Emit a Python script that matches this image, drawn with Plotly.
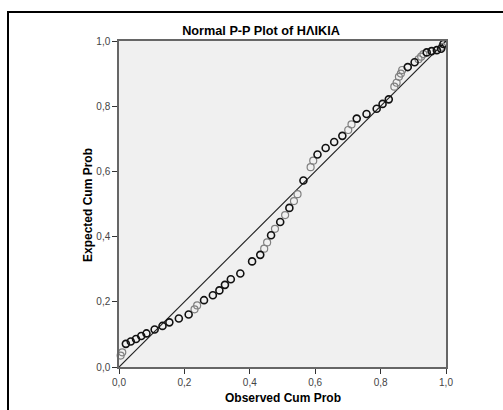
import plotly.graph_objects as go

# Normal P-P plot of age (ΗΛΙΚΙΑ): observed vs expected cumulative probability
observed_dark = [0.021, 0.036, 0.052, 0.068, 0.084, 0.109, 0.133, 0.154, 0.183, 0.213,
                 0.260, 0.287, 0.307, 0.324, 0.342, 0.371, 0.407, 0.432, 0.465, 0.493,
                 0.521, 0.564, 0.607, 0.632, 0.658, 0.683, 0.727, 0.757, 0.788, 0.806,
                 0.825, 0.883, 0.904, 0.941, 0.956, 0.972, 0.985, 0.992]
expected_dark = [0.071, 0.078, 0.086, 0.095, 0.103, 0.115, 0.126, 0.137, 0.149, 0.161,
                 0.205, 0.220, 0.235, 0.252, 0.269, 0.287, 0.324, 0.344, 0.404, 0.445,
                 0.488, 0.572, 0.652, 0.672, 0.690, 0.709, 0.762, 0.776, 0.792, 0.807,
                 0.821, 0.920, 0.935, 0.965, 0.969, 0.972, 0.976, 0.991]

observed_light = [0.005, 0.010, 0.231, 0.239, 0.444, 0.453, 0.477, 0.508, 0.535, 0.546,
                  0.586, 0.594, 0.701, 0.711, 0.842, 0.849, 0.856, 0.862, 0.866, 0.916,
                  0.924, 0.931, 0.988]
expected_light = [0.035, 0.045, 0.177, 0.189, 0.363, 0.382, 0.424, 0.466, 0.509, 0.530,
                  0.613, 0.633, 0.727, 0.744, 0.860, 0.872, 0.890, 0.900, 0.911, 0.944,
                  0.952, 0.960, 0.982]

reference_line = [0.0, 1.0]
tick_values = [0.0, 0.2, 0.4, 0.6, 0.8, 1.0]

W, H = 503, 410
L, R, T, B = 119, 57, 41, 43
pw, ph = W - L - R, H - T - B
FONT = "Liberation Sans, Arial"

fig = go.Figure()
fig.add_trace(go.Scatter(
    x=reference_line, y=reference_line, mode="lines",
    line=dict(color="#222222", width=1.2), hoverinfo="skip", showlegend=False,
))
fig.add_trace(go.Scatter(
    x=observed_light, y=expected_light, mode="markers", cliponaxis=False,
    marker=dict(symbol="circle-open", size=7, color="#808080", line=dict(width=1.2, color="#808080")),
    showlegend=False,
))
fig.add_trace(go.Scatter(
    x=observed_dark, y=expected_dark, mode="markers", cliponaxis=False,
    marker=dict(symbol="circle-open", size=7, color="#111111", line=dict(width=1.6, color="#111111")),
    showlegend=False,
))

axis_common = dict(
    range=[0, 1], tickvals=tick_values, tickformat=".1f",
    ticks="outside", ticklen=5, tickcolor="#333333", tickwidth=1,
    showline=True, linecolor="#666666", linewidth=1.5, mirror=True,
    showgrid=False, zeroline=False,
    tickfont=dict(family=FONT, size=10, color="#444444"),
)

fig.update_layout(
    width=W, height=H,
    margin=dict(l=L, r=R, t=T, b=B, pad=0),
    paper_bgcolor="white", plot_bgcolor="#f0f0f0",
    separators=",.",
    xaxis=dict(**axis_common),
    yaxis=dict(**axis_common),
    title=dict(
        text="<b>Normal P-P Plot of ΗΛΙΚΙΑ</b>",
        x=261 / W, xref="container", xanchor="center",
        y=1 - 31 / H, yref="container", yanchor="middle",
        font=dict(family=FONT, size=12.7, color="#000000"),
    ),
    annotations=[
        dict(text="<b>Observed Cum Prob</b>", xref="paper", yref="paper",
             x=0.5, y=-31 / ph, xanchor="center", yanchor="middle", showarrow=False,
             font=dict(family=FONT, size=12, color="#000000")),
        dict(text="<b>Expected Cum Prob</b>", xref="paper", yref="paper",
             x=(88 - L) / pw, y=(367 - 205) / ph, xanchor="center", yanchor="middle",
             textangle=-90, showarrow=False,
             font=dict(family=FONT, size=12, color="#000000")),
    ],
    shapes=[
        dict(type="rect", xref="paper", yref="paper",
             x0=(8 - L) / pw, x1=2.0, y0=-1.0, y1=(367 - 12) / ph,
             line=dict(color="#000000", width=2), fillcolor="rgba(0,0,0,0)", layer="below"),
    ],
)

fig.write_html("out.html")
